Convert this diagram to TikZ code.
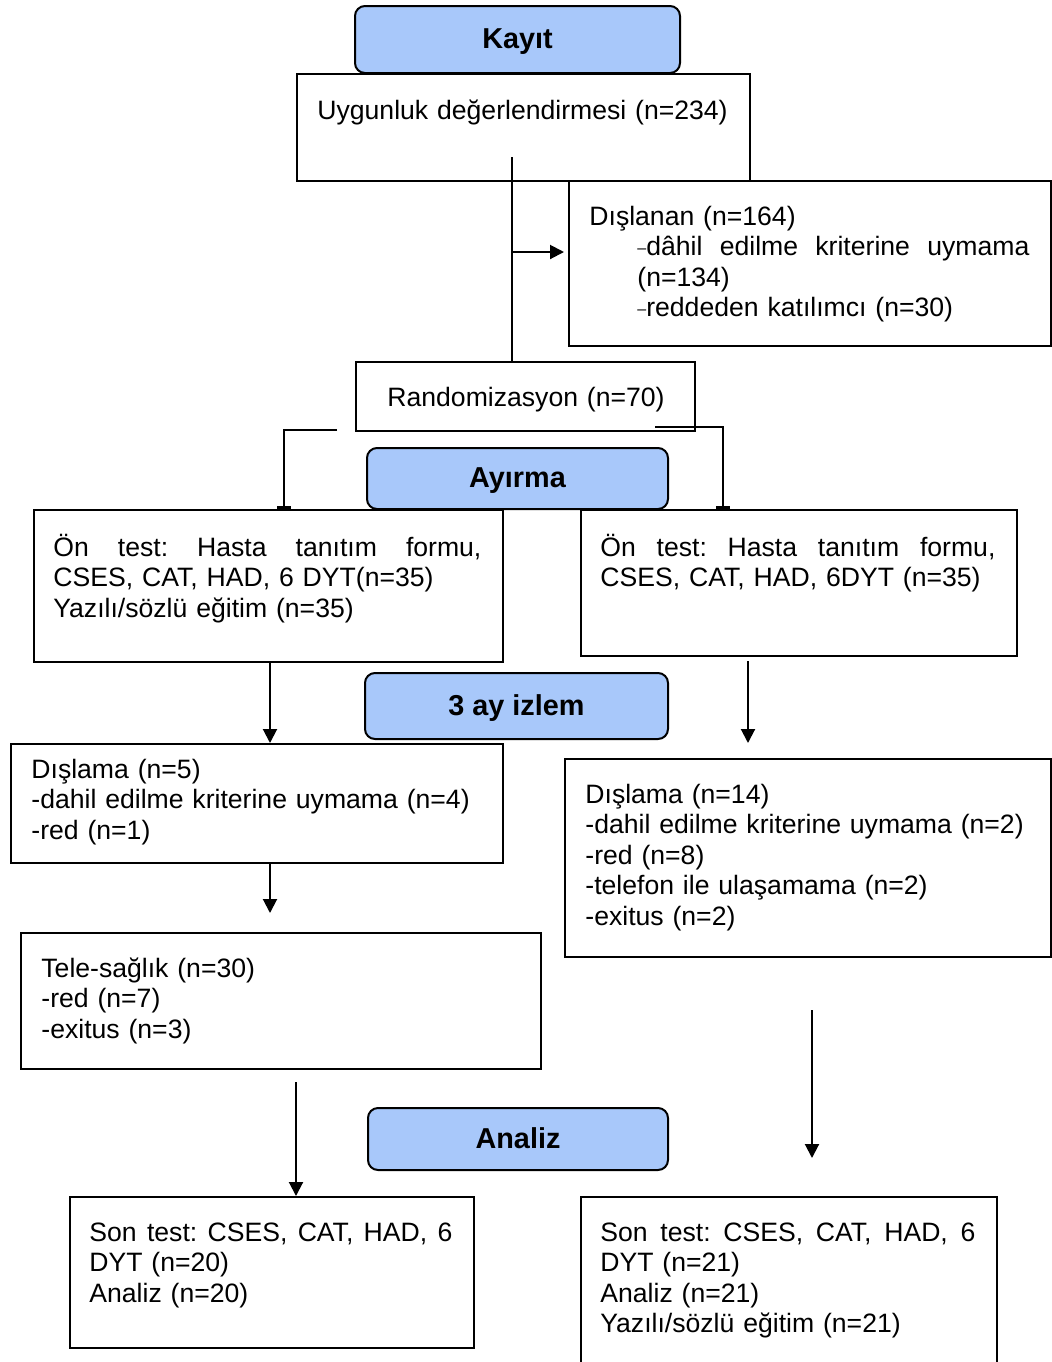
\documentclass[tikz,border=0pt]{standalone}
\usepackage{fontspec}
\setmainfont{Liberation Sans}
\usetikzlibrary{arrows.meta,calc}
\definecolor{hdrblue}{RGB}{168,200,250}
\newcommand{\smdash}{\raisebox{1.2pt}{\fontsize{8}{8}\selectfont –}}
\begin{document}
\begin{tikzpicture}[x=0.5pt,y=-0.5pt,
  box/.style={draw=black,line width=1pt,rectangle,inner sep=0pt,anchor=north west},
  hdr/.style={draw=black,line width=1pt,fill=hdrblue,rounded corners=5pt,inner sep=0pt,
    text height=9.4pt,text depth=0pt,
    font=\fontsize{14.4}{17}\selectfont\bfseries},
  txt/.style={inner sep=0pt,anchor=base west,align=left,
    font=\fontsize{13.3}{15.25}\selectfont},
  conn/.style={line width=1pt},
  arr/.style={conn,-{Triangle[length=7pt,width=7pt]}},
  barend/.style={conn,-{Rectangle[length=1.5pt,width=7pt]}}]

\useasboundingbox (0,0) rectangle (1052,1362);

% boxes
\node[box,minimum width=226.5pt,minimum height=53.5pt] (uyg) at (296,73) {};
\node[box,minimum width=241pt,minimum height=82.5pt] (dis) at (568,180) {};
\node[box,minimum width=169.5pt,minimum height=34.5pt] (rand) at (355,361) {};
\node[box,minimum width=234.5pt,minimum height=76pt] (onL) at (33,509) {};
\node[box,minimum width=218pt,minimum height=73pt] (onR) at (580,509) {};
\node[box,minimum width=246pt,minimum height=59.5pt] (dL) at (10,743) {};
\node[box,minimum width=243pt,minimum height=99pt] (dR) at (564,758) {};
\node[box,minimum width=260pt,minimum height=68pt] (tele) at (20,932) {};
\node[box,minimum width=202pt,minimum height=75.5pt] (sL) at (69,1196) {};
\node[box,minimum width=208pt,minimum height=100pt] (sR) at (580,1196) {};

% header boxes
\node[hdr,minimum width=162.5pt,minimum height=33.5pt] (kayit) at (517.5,39.5) {Kayıt};
\node[hdr,minimum width=150.5pt,minimum height=30.5pt] (ayirma) at (517.5,478.5) {Ayırma};
\node[hdr,minimum width=151.5pt,minimum height=33pt] (izlem) at (516.5,706) {3 ay izlem};
\node[hdr,minimum width=150pt,minimum height=31pt] (analiz) at (518,1139) {Analiz};

% texts
\node[txt,text width=215pt] (tuyg) at (317,119) {Uygunluk değerlendirmesi (n=234)};
\node[txt,text width=222pt] (tdis) at (589,225) {Dışlanan (n=164)\\
  \hspace*{24pt}\hbox to 196pt{\smdash dâhil\hfill edilme\hfill kriterine\hfill uymama}\\
  \hspace*{24pt}(n=134)\\
  \hspace*{24pt}\smdash reddeden katılımcı (n=30)};
\node[txt,text width=160pt] (trand) at (387,406) {Randomizasyon (n=70)};
\node[txt,text width=214pt] (tonL) at (53,556) {\hbox to 214pt{Ön\hfill test:\hfill Hasta\hfill tanıtım\hfill formu,}\\
  CSES, CAT, HAD, 6 DYT(n=35)\\ Yazılı/sözlü eğitim (n=35)};
\node[txt,text width=197.5pt] (tonR) at (600,556) {\hbox to 197.5pt{Ön\hfill test:\hfill Hasta\hfill tanıtım\hfill formu,}\\
  CSES, CAT, HAD, 6DYT (n=35)};
\node[txt,text width=235pt] (tdL) at (31,778) {Dışlama (n=5)\\
  -dahil edilme kriterine uymama (n=4)\\ -red (n=1)};
\node[txt,text width=235pt] (tdR) at (585,803) {Dışlama (n=14)\\
  -dahil edilme kriterine uymama (n=2)\\ -red (n=8)\\
  -telefon ile ulaşamama (n=2)\\ -exitus (n=2)};
\node[txt,text width=200pt] (ttele) at (41,977) {Tele-sağlık (n=30)\\ -red (n=7)\\ -exitus (n=3)};
\node[txt,text width=181.5pt] (tsL) at (89,1241) {\hbox to 181.5pt{Son\hfill test:\hfill CSES,\hfill CAT,\hfill HAD,\hfill 6}\\
  DYT (n=20)\\ Analiz (n=20)};
\node[txt,text width=187.5pt] (tsR) at (600,1241) {\hbox to 187.5pt{Son\hfill test:\hfill CSES,\hfill CAT,\hfill HAD,\hfill 6}\\
  DYT (n=21)\\ Analiz (n=21)\\ Yazılı/sözlü eğitim (n=21)};

% connectors
\coordinate (v0) at (512,157);
\draw[conn] (v0) -- (v0 |- rand.north);
\coordinate (v1) at (512,252);
\draw[arr,shorten >=2pt] (v1) -- (v1 -| dis.west);

\coordinate (l0) at (337,430);
\draw[barend] (l0) -| ($(onL.north west)+(251,0)$);
\coordinate (r0) at (655,427);
\draw[barend] (r0) -| ($(onR.north west)+(143,0)$);

\draw[arr] ($(onL.south west)+(237,0)$) -- ($(dL.north west)+(260,0)$);
\coordinate (ra0) at (748,661);
\coordinate (ra1) at (748,743);
\draw[arr] (ra0) -- (ra1);

\draw[arr] ($(dL.south west)+(260,0)$) -- (270,913) coordinate (la1);
\coordinate (rb0) at (812,1010);
\coordinate (rb1) at (812,1158);
\draw[arr] (rb0) -- (rb1);
\coordinate (lb0) at (296,1082);
\draw[arr] (lb0) -- (lb0 |- sL.north);
\end{tikzpicture}
\end{document}
